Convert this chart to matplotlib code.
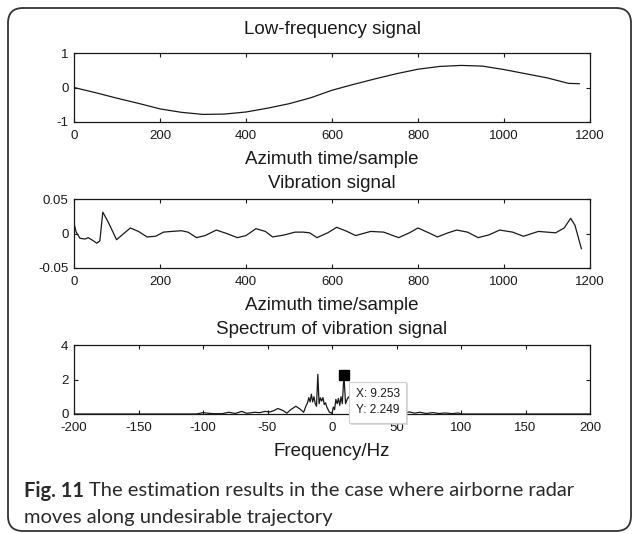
import matplotlib
matplotlib.use('Agg')
import matplotlib.pyplot as plt
import matplotlib.patheffects as pe
from matplotlib.patches import FancyBboxPatch

# low-frequency component (sample index, amplitude)
lf_n = [0, 50, 100, 150, 200, 250, 300, 350, 400, 450, 500, 550, 600,
        650, 700, 750, 800, 850, 900, 950, 1000, 1050, 1100, 1150, 1175]
lf_val = [0.0, -0.15, -0.31, -0.46, -0.62, -0.72, -0.78, -0.77, -0.71,
          -0.60, -0.47, -0.30, -0.08, 0.09, 0.25, 0.40, 0.53, 0.61, 0.64,
          0.62, 0.52, 0.40, 0.28, 0.12, 0.11]

# vibration component
vib_n = [0, 5, 14, 26, 33, 41, 53, 60, 67, 80, 99, 114, 131, 150, 170, 190,
         208, 227, 250, 265, 285, 305, 331, 355, 380, 400, 423, 445, 462, 490,
         514, 533, 548, 565, 590, 611, 635, 655, 690, 720, 755, 780, 800, 825,
         845, 870, 890, 915, 940, 965, 990, 1020, 1045, 1065, 1080, 1100, 1120,
         1140, 1155, 1165, 1180]
vib_val = [0.015, 0.002, -0.007, -0.008, -0.006, -0.009, -0.014, -0.011,
           0.031, 0.016, -0.009, -0.001, 0.008, 0.003, -0.005, -0.004, 0.002,
           0.003, 0.004, 0.002, -0.006, -0.003, 0.005, 0.000, -0.006, -0.003,
           0.007, 0.003, -0.005, -0.002, 0.002, 0.002, 0.001, -0.006, 0.001,
           0.009, 0.003, -0.003, 0.003, 0.002, -0.006, 0.001, 0.008, 0.001,
           -0.005, 0.001, 0.005, 0.002, -0.006, -0.002, 0.005, 0.002, -0.004,
           0.000, 0.003, 0.002, 0.001, 0.008, 0.022, 0.012, -0.022]

# amplitude spectrum of the vibration component
spec_f = [-200, -105, -100, -97, -92, -85, -80, -75, -70, -66, -60, -56, -52,
          -48, -45, -42, -38, -35, -32, -28, -25, -22, -20, -19, -18, -17,
          -16, -15, -14, -13, -12, -11, -10, -9, -8, -7, -6, -5, -4, -3, -2,
          -1, 0, 1, 2, 3, 4, 5, 6, 7, 8, 9.253, 10.5, 12, 13, 15, 17, 20, 25,
          30, 35, 40, 45, 50, 55, 60, 64, 68, 73, 78, 83, 88, 93, 98, 100, 200]
spec_amp = [0.0, 0.0, 0.08, 0.05, 0.02, 0.02, 0.10, 0.03, 0.15, 0.04, 0.10,
            0.08, 0.15, 0.12, 0.20, 0.32, 0.20, 0.05, 0.25, 0.45, 0.30, 0.10,
            0.50, 0.64, 0.95, 0.70, 1.15, 0.70, 1.00, 0.60, 0.45, 2.30, 0.60,
            0.94, 0.75, 0.95, 0.55, 0.65, 0.40, 0.25, 0.10, 0.08, 0.03, 0.40,
            0.25, 0.85, 0.60, 0.90, 0.50, 1.00, 0.60, 2.249, 0.60, 0.90, 1.00,
            0.60, 0.40, 0.30, 0.20, 0.15, 0.10, 0.12, 0.08, 0.10, 0.05, 0.12,
            0.05, 0.10, 0.03, 0.08, 0.03, 0.06, 0.02, 0.06, 0.0, 0.0]

tip_f = 9.253
tip_amp = 2.249

titles = ['Low-frequency signal', 'Vibration signal', 'Spectrum of vibration signal']
xlabels = ['Azimuth time/sample', 'Azimuth time/sample', 'Frequency/Hz']

plt.rcParams['font.family'] = ['Liberation Sans', 'DejaVu Sans']
plt.rcParams['axes.unicode_minus'] = False

W, H = 632, 534
fig = plt.figure(figsize=(W / 100, H / 100), dpi=100)


def px_axes(left, top, right, bottom):
    return fig.add_axes([left / W, 1 - bottom / H, (right - left) / W, (bottom - top) / H])


ax1 = px_axes(74, 53, 590, 122)
ax2 = px_axes(74, 199, 590, 268)
ax3 = px_axes(74, 345, 590, 414)

line_kw = dict(color='#1a1a1a', lw=0.9)
ax1.plot(lf_n, lf_val, **line_kw)
ax2.plot(vib_n, vib_val, **line_kw)
ax3.plot(spec_f, spec_amp, **line_kw)

ax1.set_xlim(0, 1200)
ax1.set_ylim(-1, 1)
ax1.set_xticks(range(0, 1201, 200))
ax1.set_yticks([-1, 0, 1])

ax2.set_xlim(0, 1200)
ax2.set_ylim(-0.05, 0.05)
ax2.set_xticks(range(0, 1201, 200))
ax2.set_yticks([-0.05, 0, 0.05])
ax2.set_yticklabels(['-0.05', '0', '0.05'])

ax3.set_xlim(-200, 200)
ax3.set_ylim(0, 4)
ax3.set_xticks(range(-200, 201, 50))
ax3.set_yticks([0, 2, 4])

title_pads = [14, 8, 8]
for ax, t, xl, tp in zip([ax1, ax2, ax3], titles, xlabels, title_pads):
    ax.tick_params(direction='in', top=True, right=True, length=3, width=0.8,
                   labelsize=9.5, colors='#1a1a1a')
    ax.tick_params(axis='x', pad=6)
    ax.tick_params(axis='y', pad=4)
    for s in ax.spines.values():
        s.set_linewidth(0.9)
        s.set_color('#1a1a1a')
    ax.set_title(t, fontsize=13.5, pad=tp, color='#1a1a1a')
    ax.set_xlabel(xl, fontsize=13.5, labelpad=6.5, color='#1a1a1a')

# data cursor on the second peak
ax3.plot([tip_f], [tip_amp], 's', color='black', ms=7, zorder=5)
tip = ax3.annotate('X: %.3f\nY: %.3f' % (tip_f, tip_amp), xy=(tip_f, tip_amp),
                   xytext=(8.5, -9.5), textcoords='offset points', ha='left', va='top',
                   fontsize=8.6, color='#1a1a1a', linespacing=1.45, zorder=6,
                   bbox=dict(boxstyle='square,pad=0.55', fc='white', ec='#cfcfcf', lw=0.8))
tip.get_bbox_patch().set_path_effects([
    pe.SimplePatchShadow(offset=(1.2, -1.2), shadow_rgbFace='#bbbbbb', alpha=0.5),
    pe.Normal()])

# rounded frame around the figure
frame = FancyBboxPatch((0.08, 0.03), 6.23, 5.23,
                       boxstyle='round,pad=0,rounding_size=0.15',
                       transform=fig.dpi_scale_trans, fill=False,
                       ec='#333333', lw=1.3)
fig.add_artist(frame)

# caption
cap_kw = dict(family=['Lato', 'DejaVu Sans'], fontsize=14.5, color='#2a2a2a', va='center')
t1 = fig.text(24 / W, 1 - 491 / H, 'Fig. 11', weight='bold', **cap_kw)
fig.canvas.draw()
bb = t1.get_window_extent()
fig.text(bb.x1 / W + 5 / W, 1 - 491 / H,
         'The estimation results in the case where airborne radar', **cap_kw)
fig.text(24 / W, 1 - 517 / H, 'moves along undesirable trajectory', **cap_kw)

fig.savefig('out.png', dpi=100)
